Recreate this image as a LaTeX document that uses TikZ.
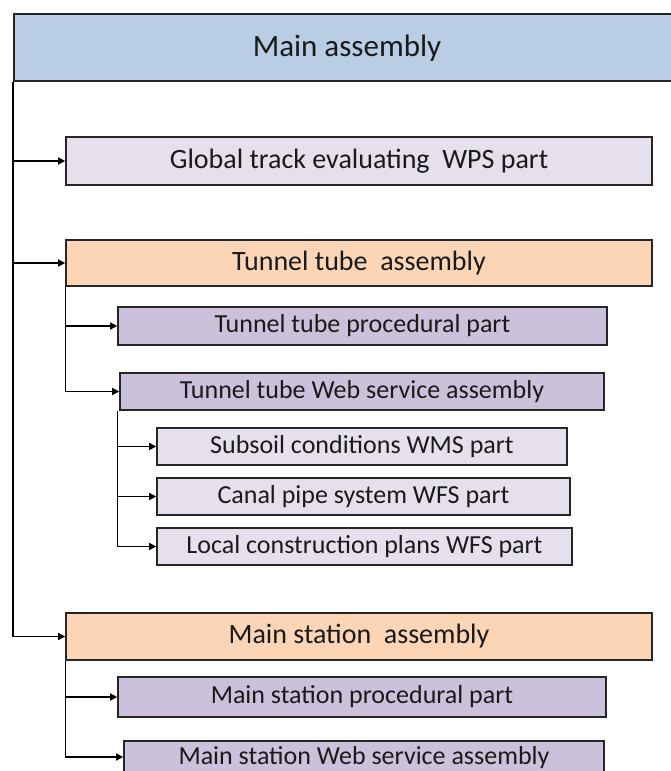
\documentclass[tikz,border=0pt]{standalone}
\usepackage{fontspec}
\setmainfont{Carlito}
\usetikzlibrary{arrows.meta}
\definecolor{hdrblue}{HTML}{B9CDE5}
\definecolor{peach}{HTML}{FBD5B5}
\definecolor{lav}{HTML}{CCC1DA}
\definecolor{lightlav}{HTML}{E6E0EC}
\definecolor{txt}{HTML}{1A1A1A}
\tikzset{
  box/.style={draw=black!85, line width=1.6pt, inner sep=0pt, text=txt, font=\fontsize{26}{28}\selectfont},
  bigtxt/.style={font=\fontsize{28}{30}\selectfont},
  conn/.style={draw=black, line width=1.4pt, -{Triangle[length=7pt,width=7pt]}},
}
\begin{document}
\begin{tikzpicture}[x=1pt,y=1pt]
\useasboundingbox (0,0) rectangle (671,-771);
\clip (0,0) rectangle (671,-771);
\node[box, fill=hdrblue, minimum width=668, minimum height=67, anchor=north west] (hdr) at (13,-13) {};
\node[font=\fontsize{31}{33}\selectfont, text=txt] (hdrt) at (347,-48) {Main assembly};
\node[box, bigtxt, fill=lightlav, minimum width=586, minimum height=48] (gt) at (359,-161) {Global track evaluating\ \ WPS part};
\node[box, bigtxt, fill=peach, minimum width=586, minimum height=46] (ta) at (359,-263) {Tunnel tube\ \ assembly};
\node[box, fill=lav, minimum width=489, minimum height=38] (tp) at (362.5,-326) {Tunnel tube procedural part};
\node[box, fill=lav, minimum width=484, minimum height=37] (tw) at (362,-391.5) {Tunnel tube Web service assembly};
\node[box, fill=lightlav, minimum width=410, minimum height=37] (ss) at (362,-446.5) {Subsoil conditions WMS part};
\node[box, fill=lightlav, minimum width=413, minimum height=37] (cp) at (363.5,-496.5) {Canal pipe system WFS part};
\node[box, fill=lightlav, minimum width=415, minimum height=37] (lc) at (364.5,-546.5) {Local construction plans WFS part};
\node[box, bigtxt, fill=peach, minimum width=586, minimum height=47] (ma) at (359,-636.5) {Main station\ \ assembly};
\node[box, fill=lav, minimum width=488, minimum height=40] (mp) at (362,-697) {Main station procedural part};
\node[box, fill=lav, minimum width=480, minimum height=34, anchor=north] (mw) at (364,-740) {Main station Web service assembly};
\coordinate (twc) at ([xshift=-2pt]tw.south west);
\draw[conn] (hdr.south west) |- (gt.west);
\draw[conn] (hdr.south west) |- (ta.west);
\draw[conn] (hdr.south west) |- (ma.west);
\draw[conn] (ta.south west) |- (tp.west);
\draw[conn] (ta.south west) |- (tw.west);
\draw[conn] (twc) |- (ss.west);
\draw[conn] (twc) |- (cp.west);
\draw[conn] (twc) |- (lc.west);
\draw[conn] (ma.south west) |- (mp.west);
\draw[conn] (ma.south west) |- ([yshift=-17pt]mw.north west);
\end{tikzpicture}
\end{document}
